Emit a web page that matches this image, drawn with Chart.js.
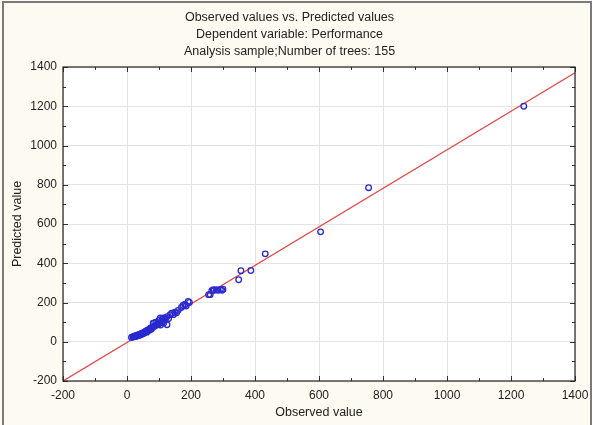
<!DOCTYPE html>
<html>
<head>
<meta charset="utf-8">
<script src="https://cdn.jsdelivr.net/npm/chart.js@4"></script>
<style>
html,body{margin:0;padding:0;background:#fdfbf1;}
#wrap{width:592px;height:425px;position:relative;}
</style>
</head>
<body>
<div id="wrap"><canvas id="c" width="592" height="425"></canvas></div>
<script>
// ---- data ----
const titleLines = ["Observed values vs. Predicted values", "Dependent variable: Performance", "Analysis sample;Number of trees: 155"];
const xAxisTitle = "Observed value";
const yAxisTitle = "Predicted value";
const axisMin = -200;
const axisMax = 1400;
const axisStep = 200;
const minorStep = 100;

const observed = [14,18,20,22,24,26,28,30,31,33,35,36,38,40,41,43,45,46,48,50,52,54,55,57,58,60,62,64,66,68,70,72,74,76,78,80,82,83,85,88,90,92,95,97,98,100,103,104,105,108,110,112,114,115,118,120,125,125,130,135,140,145,150,155,160,170,175,180,182,185,191,195,255,260,265,270,272,279,285,292,297,300,349,356,387,432,605,755,1240];
const predicted = [22,25,24,28,26,30,27,32,29,35,31,34,36,33,38,40,37,42,44,41,46,48,45,50,52,55,49,57,60,62,58,66,70,64,72,75,95,95,78,82,100,86,88,87,92,110,96,121,85,100,118,105,121,95,120,112,128,87,118,138,145,138,150,148,160,175,185,190,189,182,205,200,240,240,260,265,262,265,262,266,262,268,316,362,363,448,560,785,1200];

const fitX = [-200, 1400];
const fitY = [-200, 1371];

const pointsData = observed.map((x, i) => ({x: x, y: predicted[i]}));
const fitData = fitX.map((x, i) => ({x: x, y: fitY[i]}));

const frame = {
  id: 'frame',
  beforeDraw(chart) {
    const {ctx, chartArea: a, width, height} = chart;
    ctx.save();
    ctx.fillStyle = '#fdfbf1';
    ctx.fillRect(0, 0, width, height);
    ctx.strokeStyle = '#7a7a7a';
    ctx.lineWidth = 2;
    ctx.strokeRect(3, 2, width - 4, height - 1);
    ctx.fillStyle = '#ffffff';
    ctx.fillRect(a.left, a.top, a.right - a.left, a.bottom - a.top);
    ctx.restore();
  },
  afterDatasetsDraw(chart) {
    const {ctx, chartArea: a, scales} = chart;
    ctx.save();
    ctx.strokeStyle = '#333333';
    ctx.lineWidth = 1;
    ctx.beginPath();
    for (let v = axisMin; v <= axisMax; v += minorStep) {
      const major = (v - axisMin) % axisStep === 0;
      const len = major ? 5 : 3;
      const px = Math.round(scales.x.getPixelForValue(v)) + 0.5;
      ctx.moveTo(px, a.bottom); ctx.lineTo(px, a.bottom - len);
      ctx.moveTo(px, a.top); ctx.lineTo(px, a.top + len);
      const py = Math.round(scales.y.getPixelForValue(v)) + 0.5;
      ctx.moveTo(a.left, py); ctx.lineTo(a.left + len, py);
      ctx.moveTo(a.right, py); ctx.lineTo(a.right - len, py);
    }
    ctx.stroke();
    ctx.strokeStyle = '#222222';
    ctx.lineWidth = 1.2;
    ctx.strokeRect(a.left, a.top, a.right - a.left, a.bottom - a.top);
    ctx.restore();
  }
};

const fam = "'Liberation Sans', Arial, sans-serif";
const tickFont = {family: fam, size: 12};
const plain = (v) => String(v);

new Chart(document.getElementById('c'), {
  type: 'scatter',
  data: {
    datasets: [
      {
        type: 'line',
        data: fitData,
        borderColor: '#e24a4a',
        borderWidth: 1.3,
        pointRadius: 0,
        fill: false,
        order: 2
      },
      {
        data: pointsData,
        borderColor: '#2a2ad0',
        backgroundColor: 'rgba(0,0,0,0)',
        borderWidth: 1.3,
        pointRadius: 2.8,
        order: 1
      }
    ]
  },
  options: {
    responsive: false,
    animation: false,
    layout: {padding: {left: 4, right: 17, top: 0, bottom: 0}},
    plugins: {
      legend: {display: false},
      tooltip: {enabled: false},
      title: {
        display: true,
        text: titleLines,
        color: '#222',
        font: {family: fam, size: 12.5, weight: 'normal', lineHeight: 17/12.5},
        padding: {top: 9, bottom: 7}
      }
    },
    scales: {
      x: {
        type: 'linear',
        min: axisMin, max: axisMax,
        ticks: {stepSize: axisStep, color: '#222', font: tickFont, padding: 7, maxRotation: 0, callback: plain},
        grid: {color: '#e4e4e4', drawTicks: false},
        border: {display: false},
        title: {display: true, text: xAxisTitle, color: '#222', font: {family: fam, size: 12.5}, padding: {top: 0, bottom: 5}},
        afterFit(s) { s.height = 44; s.paddingRight = 0; s.paddingLeft = 0; }
      },
      y: {
        type: 'linear',
        min: axisMin, max: axisMax,
        ticks: {stepSize: axisStep, color: '#222', font: tickFont, padding: 6, callback: plain},
        grid: {color: '#e4e4e4', drawTicks: false},
        border: {display: false},
        title: {display: true, text: yAxisTitle, color: '#222', font: {family: fam, size: 12.5}, padding: {top: 6, bottom: 0}},
        afterFit(s) { s.width = 59; }
      }
    }
  },
  plugins: [frame]
});
</script>
</body>
</html>
